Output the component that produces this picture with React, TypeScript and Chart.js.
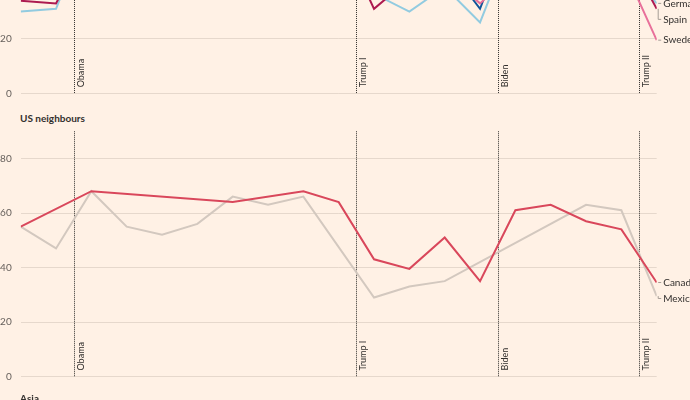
import React, { useEffect, useRef } from "react";
import { Chart, registerables } from "chart.js";

Chart.register(...registerables);

// ---- Data -------------------------------------------------------------
const years = [2007, 2008, 2009, 2010, 2011, 2012, 2013, 2014, 2015, 2016, 2017, 2018, 2019, 2020, 2021, 2022, 2023, 2024, 2025];
const presidencyNames = ["Obama", "Trump I", "Biden", "Trump II"];
const presidencyStarts = [2009, 2017, 2021, 2025];
const yTicks = [0, 20, 40, 60, 80];

// Europe panel (mostly above the visible crop)
const franceValues = [39, 42, 75, 73, 75, 69, 64, 75, 73, 63, 46, 38, 48, 31, 65, 61, 52, 62, 43];
const germanyValues = [30, 31, 64, 63, 62, 52, 53, 51, 50, 57, 36.5, 30, 39, 26, 59, 57, 54, 49, 33];
const spainValues = [34, 33, 58, 62, 64, 58, 62, 60, 65, 59, 31, 42, 44, 40, 67, 61, 59, 55, 31];
const swedenValues = [null, null, null, null, null, null, null, null, null, null, 45, 47, 44, 33, 45, 57, 55, 48, 19.5];

// US neighbours panel
const canadaValues = [55, null, 68, null, null, null, 64, null, 68, 64, 43, 39.5, 51, 35, 61, 63, 57, 54, 34.5];
const mexicoValues = [55, 47, 68, 55, 52, 56, 66, 63, 66, null, 29, 33, 35, null, null, null, 63, 61, 29.5];

const europeSeries = [
  { name: "Sweden", values: swedenValues, color: "#e8709a" },
  { name: "Spain", values: spainValues, color: "#ad1a50" },
  { name: "France", values: franceValues, color: "#0f5499" },
  { name: "Germany", values: germanyValues, color: "#92cbe0" },
];
const neighbourSeries = [
  { name: "Canada", values: canadaValues, color: "#d9475b" },
  { name: "Mexico", values: mexicoValues, color: "#d3c8bf" },
];

const FONT = "Lato, 'Noto Sans', sans-serif";
const TEXT_DARK = "#33302e";

type Series = { name: string; values: (number | null)[]; color: string };

function makePlugin(series: Series[]) {
  return {
    id: "panelDecor",
    beforeDatasetsDraw(chart: any) {
      const { ctx, chartArea, scales } = chart;
      const xs = scales.x;
      ctx.save();
      presidencyStarts.forEach((start, i) => {
        const px = Math.round(xs.getPixelForValue(start)) + 0.5;
        ctx.beginPath();
        ctx.setLineDash([1, 1]);
        ctx.strokeStyle = "#33302e";
        ctx.lineWidth = 1;
        ctx.moveTo(px, chartArea.top);
        ctx.lineTo(px, chartArea.bottom);
        ctx.stroke();
        ctx.setLineDash([]);
        ctx.save();
        ctx.translate(px + 2.5, chartArea.bottom - 6);
        ctx.rotate(-Math.PI / 2);
        ctx.fillStyle = TEXT_DARK;
        ctx.font = `9px ${FONT}`;
        ctx.textAlign = "left";
        ctx.textBaseline = "top";
        ctx.fillText(presidencyNames[i], 0, 0);
        ctx.restore();
      });
      ctx.restore();
    },
    afterDatasetsDraw(chart: any) {
      const { ctx, chartArea, scales } = chart;
      const ys = scales.y;
      const ends = series
        .map((s) => ({ name: s.name, y: ys.getPixelForValue(s.values[s.values.length - 1] as number) }))
        .sort((a, b) => a.y - b.y);
      let prev = -Infinity;
      ctx.save();
      ends.forEach((e) => {
        const ly = Math.max(e.y, prev + 16);
        prev = ly;
        const x0 = chartArea.right + 1.5;
        ctx.beginPath();
        ctx.strokeStyle = "#a59d95";
        ctx.lineWidth = 1;
        ctx.moveTo(x0, e.y);
        ctx.lineTo(x0, ly);
        ctx.lineTo(x0 + 3, ly);
        ctx.stroke();
        ctx.fillStyle = TEXT_DARK;
        ctx.font = `10px ${FONT}`;
        ctx.textAlign = "left";
        ctx.textBaseline = "middle";
        ctx.fillText(e.name, chartArea.right + 6.5, ly);
      });
      ctx.restore();
    },
  };
}

function Panel(props: { series: Series[]; top: number; height: number; padTop: number; padBottom: number }) {
  const ref = useRef<HTMLCanvasElement | null>(null);
  useEffect(() => {
    if (!ref.current) return;
    const chart = new Chart(ref.current, {
      type: "line",
      data: {
        datasets: props.series.map((s) => ({
          label: s.name,
          data: years.map((yr, i) => ({ x: yr + 0.5, y: s.values[i] })),
          borderColor: s.color,
          borderWidth: 2,
          pointRadius: 0,
          tension: 0,
          spanGaps: true,
          fill: false,
        })),
      } as any,
      options: {
        responsive: false,
        animation: false,
        devicePixelRatio: 1,
        events: [],
        layout: { padding: { left: 0, right: 33.3, top: props.padTop, bottom: props.padBottom } },
        plugins: { legend: { display: false }, tooltip: { enabled: false } },
        scales: {
          x: { type: "linear", min: 2007.5, max: 2025.5, display: false },
          y: {
            min: 0,
            max: 90,
            afterBuildTicks: (s: any) => {
              s.ticks = yTicks.map((v) => ({ value: v }));
            },
            afterFit: (s: any) => {
              s.width = 20.7;
            },
            grid: { color: "#e6d8cc", drawTicks: false, lineWidth: 1 },
            border: { display: false },
            ticks: { padding: 9, color: "#66605c", font: { family: FONT, size: 10 } },
          },
        },
      } as any,
      plugins: [makePlugin(props.series)],
    });
    return () => chart.destroy();
  }, []);
  return (
    <canvas
      ref={ref}
      width={690}
      height={props.height}
      style={{ position: "absolute", left: 0, top: props.top, width: 690, height: props.height }}
    />
  );
}

export default function App() {
  return (
    <div
      style={{
        position: "fixed",
        left: 0,
        top: 0,
        width: 690,
        height: 400,
        background: "#fff1e5",
        overflow: "hidden",
        fontFamily: FONT,
      }}
    >
      <Panel series={europeSeries} top={-170} height={281} padTop={18.05} padBottom={17.7} />
      <div style={{ position: "absolute", left: 20, top: 111, lineHeight: "14px", fontSize: 10, fontWeight: 700, color: TEXT_DARK }}>
        US neighbours
      </div>
      <Panel series={neighbourSeries} top={113} height={282} padTop={18.25} padBottom={18.5} />
      <div style={{ position: "absolute", left: 20, top: 391, lineHeight: "14px", fontSize: 10, fontWeight: 700, color: TEXT_DARK }}>
        Asia
      </div>
    </div>
  );
}
